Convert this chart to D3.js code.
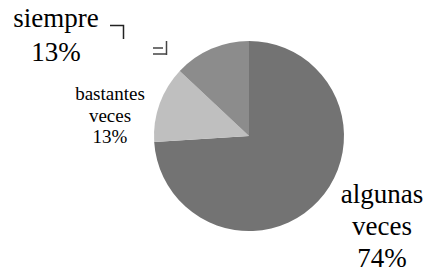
<!DOCTYPE html>
<html>
<head>
<meta charset="utf-8">
<script src="https://cdn.jsdelivr.net/npm/d3@7"></script>
<style>
  body { margin: 0; background: #fff; }
  text { font-family: "Liberation Serif", serif; fill: #000; }
</style>
</head>
<body>
<svg width="428" height="274"></svg>
<script>
// datos del gráfico
var categories = ["algunas veces", "bastantes veces", "siempre"];
var values = [74, 13, 13];
var percentLabels = ["74%", "13%", "13%"];
var colors = ["#737373", "#bfbfbf", "#8c8c8c"];

var svg = d3.select("svg"),
    width = +svg.attr("width"),
    height = +svg.attr("height");

var cx = 249, cy = 136, radius = 95;

var pie = d3.pie().sort(null).value(function(d) { return d; });
var arc = d3.arc().innerRadius(0).outerRadius(radius);

var g = svg.append("g").attr("transform", "translate(" + cx + "," + cy + ")");

g.selectAll("path")
    .data(pie(values))
    .enter().append("path")
    .attr("d", arc)
    .attr("fill", function(d, i) { return colors[i]; });

// posiciones de las etiquetas (centro x, primera línea base, interlineado, tamaño)
var labelPos = [
  { x: 382, y: 203, lh: 32, size: 27, lines: ["algunas", "veces"] },
  { x: 110, y: 100, lh: 21.5, size: 19, lines: ["bastantes", "veces"] },
  { x: 56, y: 27, lh: 34, size: 27, lines: ["siempre"] }
];

labelPos.forEach(function(p, i) {
  var t = svg.append("text")
      .attr("text-anchor", "middle")
      .attr("font-size", p.size);
  p.lines.concat([percentLabels[i]]).forEach(function(s, k) {
    t.append("tspan")
      .attr("x", p.x)
      .attr("y", p.y + k * p.lh)
      .text(s);
  });
});

// líneas guía
svg.append("path")
    .attr("d", "M110,25.5H123.5V39")
    .attr("fill", "none")
    .attr("stroke", "#222")
    .attr("stroke-width", 1.5);

svg.append("path")
    .attr("d", "M153,48H163M153,54H166.5M166.5,41V55")
    .attr("fill", "none")
    .attr("stroke", "#444")
    .attr("stroke-width", 1.5);
</script>
</body>
</html>
